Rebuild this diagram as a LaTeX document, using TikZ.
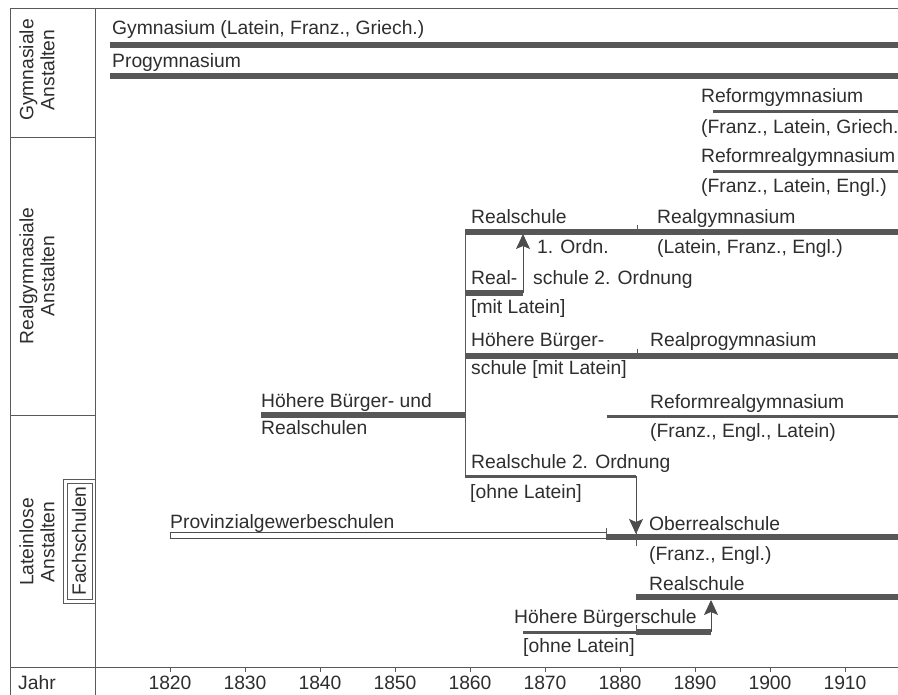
\documentclass[tikz,border=0pt]{standalone}
\usepackage{fontspec}
\setmainfont{Liberation Sans}
\usepackage{tikz}
\usetikzlibrary{arrows.meta}
\usetikzlibrary{positioning}
\definecolor{barcol}{gray}{0.34}
\definecolor{inkcol}{gray}{0.18}
\tikzset{bar/.style = {draw=barcol, line width=5.5pt}}
\tikzset{midbar/.style = {draw=barcol, line width=3pt}}
\tikzset{rule/.style = {draw=black!65, line width=0.8pt}}
\tikzset{up/.style = {draw=black!70, line width=1pt,
                      -{Stealth[length=15pt, width=14pt, inset=3pt]}}}
\tikzset{lbl/.style = {anchor=base west, inner sep=0, text=inkcol,
                       font=\fontsize{19.3}{21}\selectfont}}
\tikzset{side/.style = {rotate=90, align=center, inner sep=0, text=inkcol,
                        font=\fontsize{19.3}{21}\selectfont}}

\begin{document}
\begin{tikzpicture}[x=1pt, y=-1pt]
    \useasboundingbox (0, 0) rectangle (898, 695);
    \clip (0, 0) rectangle (898, 695);

    % frame and left column
    \draw [rule] (10, 8) -- (898, 8);
    \draw [rule] (10, 8) -- (10, 695);
    \draw [rule] (95, 8) -- (95, 695);
    \draw [rule] (10, 137) -- (95, 137);
    \draw [rule] (10, 415) -- (95, 415);
    \draw [rule] (10, 667) -- (898, 667);
    \draw [rule] (63, 479) rectangle (95, 603);
    \draw [rule] (67, 483) rectangle (92, 599);

    \node [side] (gymlbl) at (37, 70) {Gymnasiale\\Anstalten};
    \node [side] (reallbl) at (37, 276) {Realgymnasiale\\Anstalten};
    \node [side] (loselbl) at (37, 542) {Lateinlose\\Anstalten};
    \node [side] (fachlbl) at (79, 541) {Fachschulen};
    \node [lbl, anchor=base] (jahr) at (37, 689) {Jahr};

    % years
    \foreach \yr in {1820, 1830, ..., 1910} {
        \draw [rule] ({170 + 7.5*(\yr - 1820)}, 667) -- ++(0, 5);
        \node [lbl, anchor=base] (y\yr) at ({170 + 7.5*(\yr - 1820)}, 689) {\yr};
    }

    % gymnasiale Anstalten
    \draw [bar] (110, 45) -- (898, 45);
    \node [lbl] (gym) at (112, 35) {Gymnasium (Latein, Franz., Griech.)};
    \draw [bar] (110, 76) -- (898, 76);
    \node [lbl] (progym) at (112, 68) {Progymnasium};
    \draw [midbar] (713, 112) -- (898, 112);
    \node [lbl] (refgym) at (701, 103) {Reformgymnasium};
    \node [lbl] (refgymsub) at (701, 134) {(Franz., Latein, Griech.};

    % realgymnasiale Anstalten
    \draw [midbar] (713, 172) -- (898, 172);
    \node [lbl] (refreal) at (701, 163) {Reformrealgymnasium};
    \node [lbl] (refrealsub) at (701, 193) {(Franz., Latein, Engl.)};

    \coordinate (rs1) at (465, 232);
    \draw [bar] (rs1) -- (898, 232);
    \draw [rule] (637, 225) -- (637, 232);
    \node [lbl] (realschule) at (471, 224) {Realschule};
    \node [lbl] (realgym) at (657, 224) {Realgymnasium};
    \node [lbl] (realgymsub) at (657, 254) {(Latein, Franz., Engl.)};
    \node [lbl] (ordn) at (537, 254) {1. Ordn.};

    \coordinate (rs2) at (523, 293);
    \coordinate (rs2top) at (523, 234);
    \draw [bar] (465, 293) -- (rs2);
    \draw [up] (rs2) -- (rs2top);
    \node [lbl] (real) at (471, 285) {Real-};
    \node [lbl] (schule) at (533, 285) {schule 2. Ordnung};
    \node [lbl] (mitlatein) at (471, 314) {[mit Latein]};

    \draw [bar] (465, 356) -- (898, 356);
    \draw [rule] (637, 349) -- (637, 356);
    \node [lbl] (hbs) at (471, 347) {Höhere Bürger-};
    \node [lbl] (hbssub) at (471, 375) {schule [mit Latein]};
    \node [lbl] (realprogym) at (650, 347) {Realprogymnasium};

    \coordinate (hbr) at (465, 415);
    \draw [bar] (261, 415) -- (hbr);
    \node [lbl] (hbund) at (261, 407) {Höhere Bürger- und};
    \node [lbl] (hbundsub) at (261, 435) {Realschulen};

    \draw [midbar] (607, 416) -- (898, 416);
    \node [lbl] (refreal2) at (650, 408) {Reformrealgymnasium};
    \node [lbl] (refreal2sub) at (650, 437) {(Franz., Engl., Latein)};

    % lateinlose Anstalten
    \coordinate (rso) at (465, 476);
    \coordinate (rsoend) at (636, 476);
    \coordinate (ober) at (636, 534);
    \draw [rule] (rs1) -- (rso);
    \draw [midbar] (rso) -- (rsoend);
    \draw [up] (rsoend) -- (ober);
    \draw [rule] (636, 530) -- (636, 546);
    \node [lbl] (rsohne) at (471, 468) {Realschule 2. Ordnung};
    \node [lbl] (ohnelatein) at (470, 498) {[ohne Latein]};

    \draw [draw=black!70, line width=0.8pt, fill=white] (170, 532) rectangle (606, 538);
    \node [lbl] (provinz) at (170, 528) {Provinzialgewerbeschulen};
    \draw [bar] (606, 537) -- (898, 537);
    \draw [rule] (606, 528) -- (606, 537);
    \node [lbl] (oberreal) at (649, 530) {Oberrealschule};
    \node [lbl] (oberrealsub) at (649, 560) {(Franz., Engl.)};

    \draw [bar] (636, 597) -- (898, 597);
    \node [lbl] (realschule2) at (649, 590) {Realschule};

    \coordinate (hbo) at (711, 632);
    \coordinate (hbotop) at (711, 600);
    \draw [midbar] (523, 632) -- (636, 632);
    \draw [bar] (636, 632) -- (hbo);
    \draw [rule] (636, 625) -- (636, 632);
    \draw [up] (hbo) -- (hbotop);
    \node [lbl] (hbohne) at (514, 623) {Höhere Bürgerschule};
    \node [lbl] (hbohnesub) at (523, 652) {[ohne Latein]};
  \end{tikzpicture}
\end{document}
